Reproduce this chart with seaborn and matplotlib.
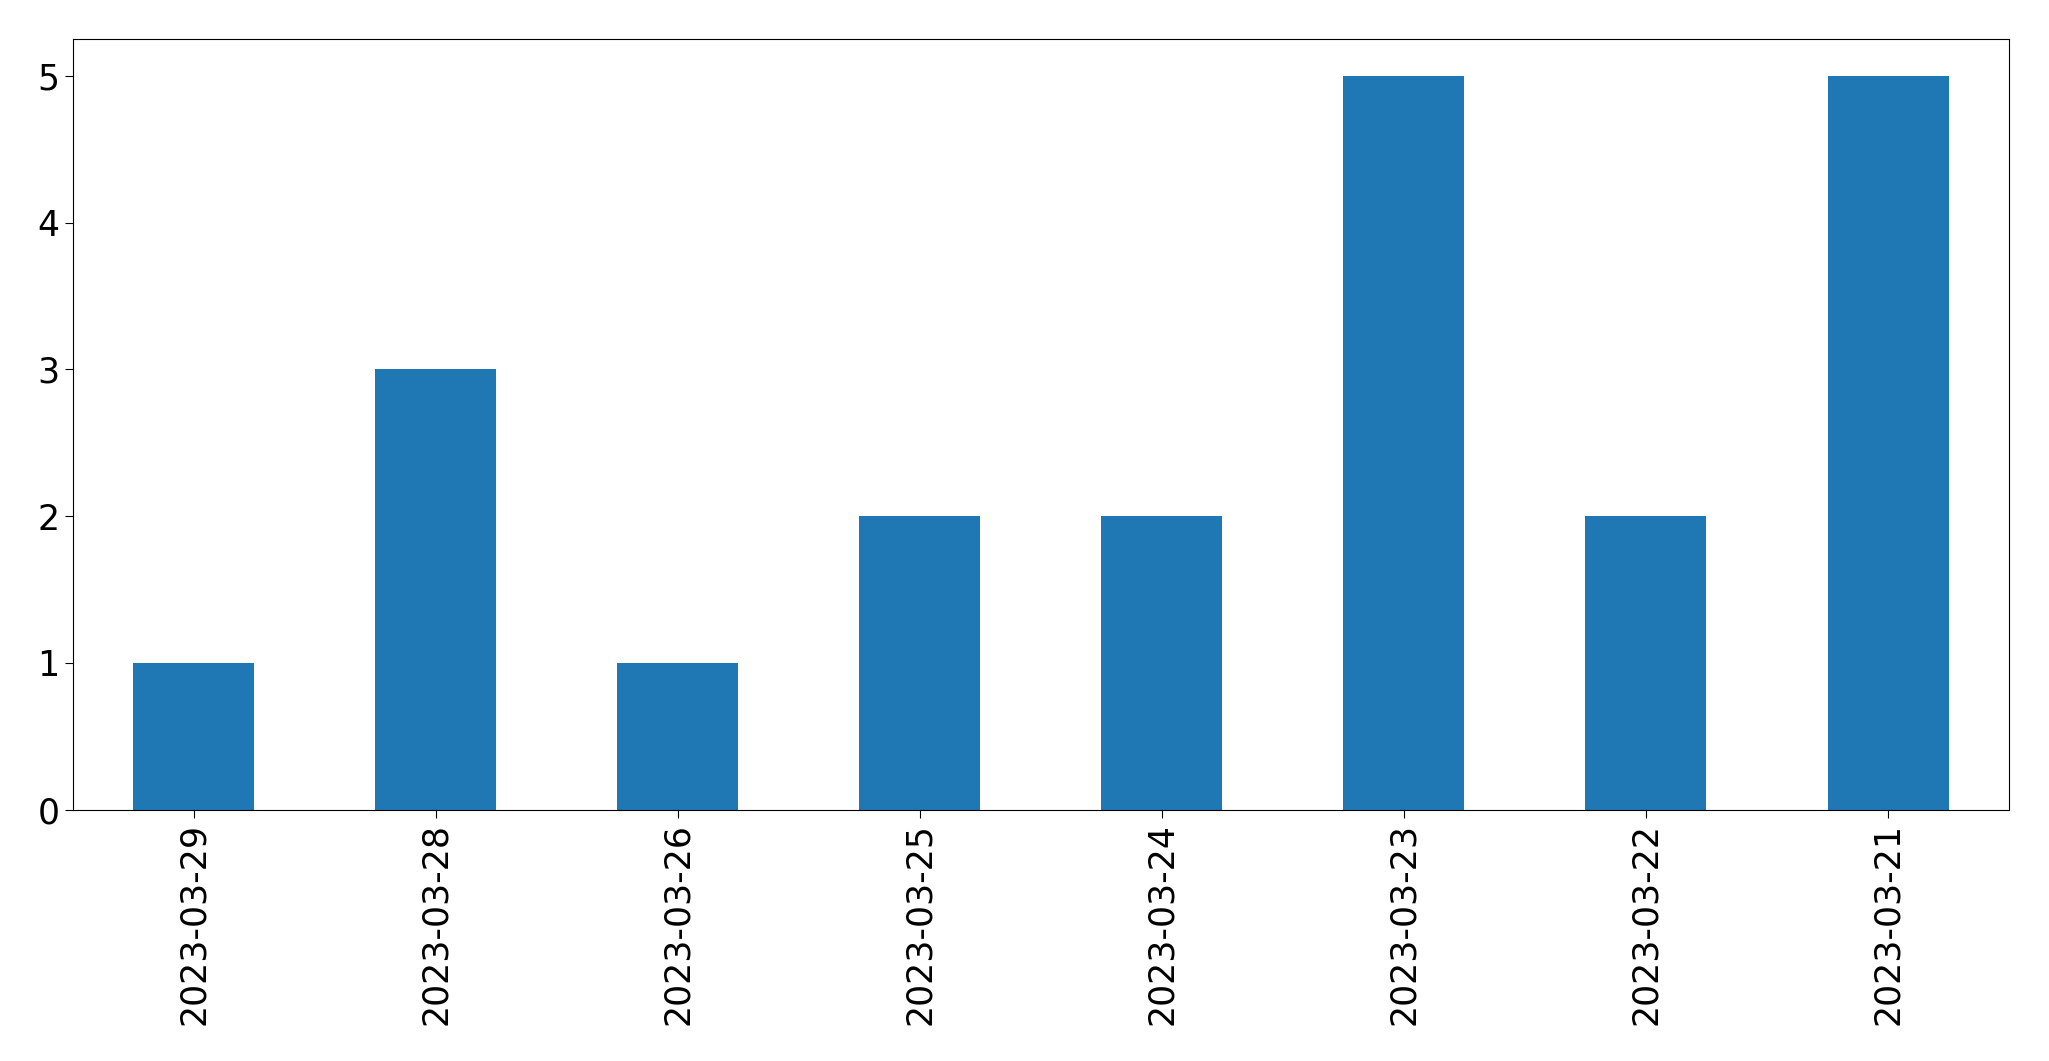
import matplotlib
matplotlib.use('Agg')
import matplotlib.pyplot as plt
import seaborn as sns
import pandas as pd

dates = ['2023-03-29', '2023-03-28', '2023-03-26', '2023-03-25',
         '2023-03-24', '2023-03-23', '2023-03-22', '2023-03-21']
counts = [1, 3, 1, 2, 2, 5, 2, 5]

df = pd.DataFrame({'date': dates, 'count': counts})

fig, ax = plt.subplots(figsize=(20.49, 10.61), dpi=100)
sns.barplot(data=df, x='date', y='count', color='#1f77b4', saturation=1,
            width=0.5, ax=ax, order=dates)
ax.set_xlim(-0.5, len(dates) - 0.5)
ax.set_xlabel('')
ax.set_ylabel('')
ax.tick_params(axis='both', labelsize=25, length=6)
ax.tick_params(axis='x', rotation=90)
for s in ax.spines.values():
    s.set_visible(True)
    s.set_color('black')

plt.subplots_adjust(left=0.0355, right=0.9805, top=0.963, bottom=0.237)
plt.savefig('out.png')
